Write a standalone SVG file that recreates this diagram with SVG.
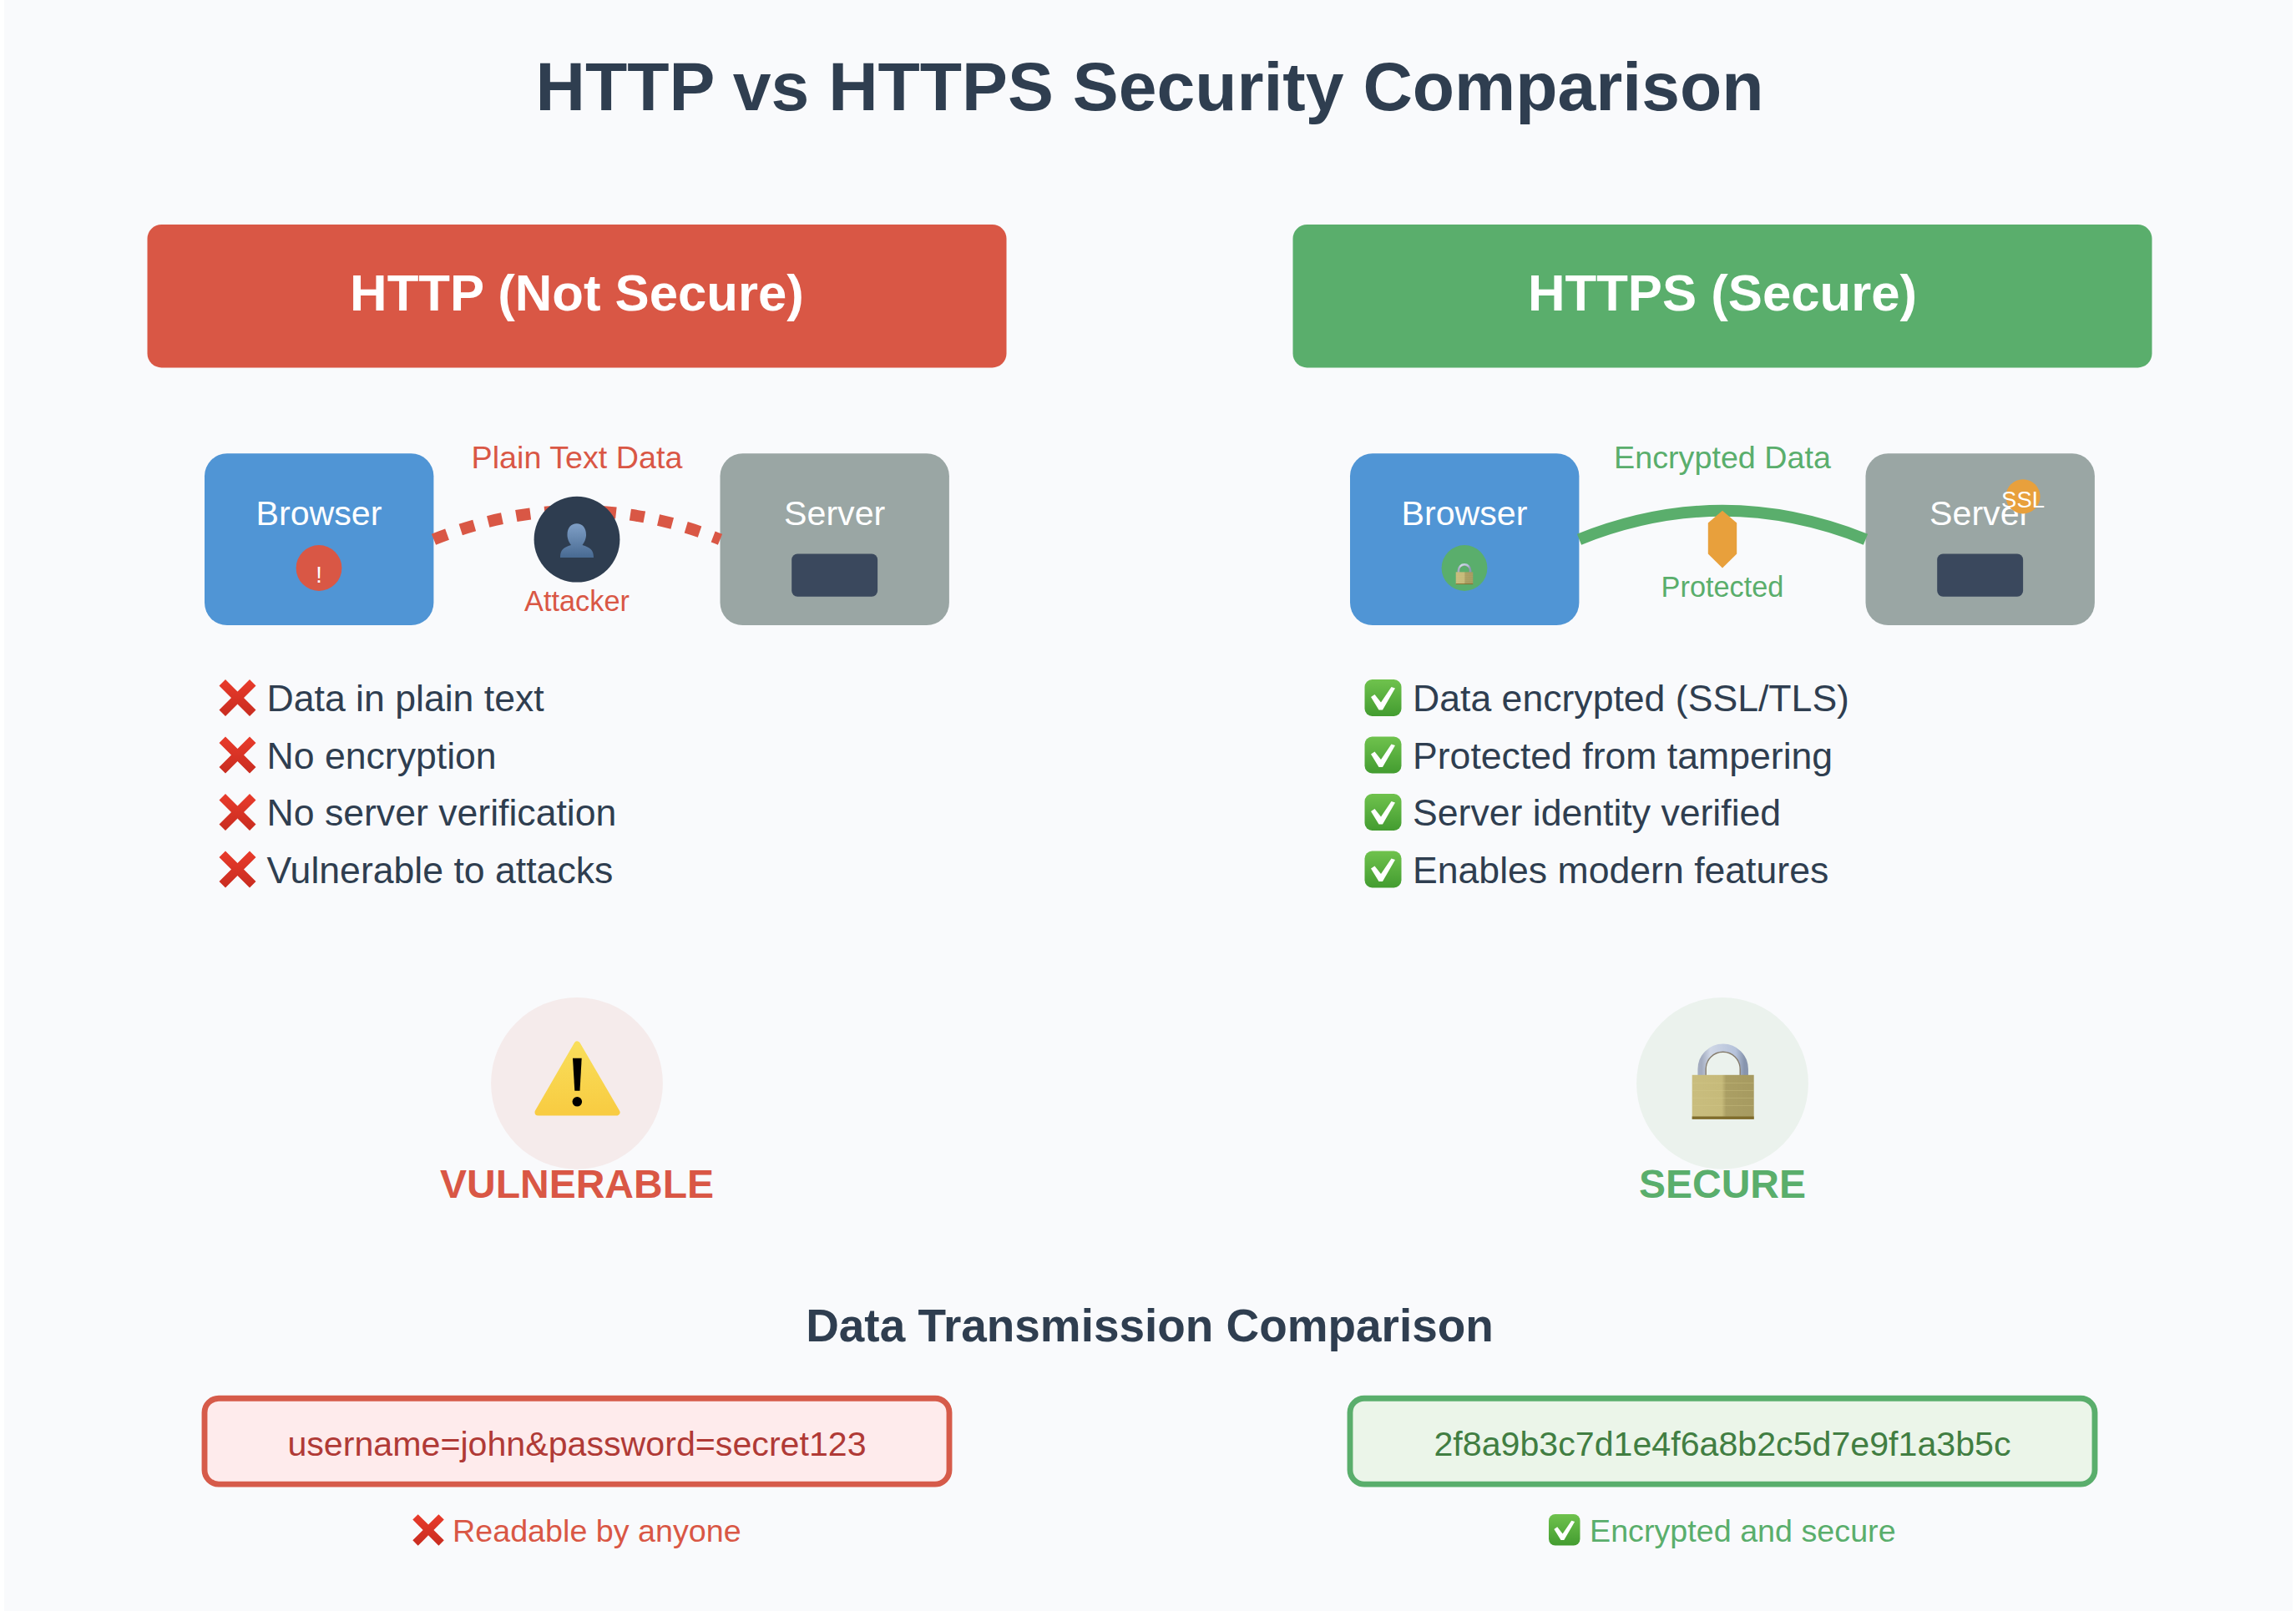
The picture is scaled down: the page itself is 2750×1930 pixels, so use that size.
<svg xmlns="http://www.w3.org/2000/svg" width="2750" height="1930" viewBox="0 0 2750 1930">
<style>
text{font-family:"Liberation Sans",Arial,sans-serif}
.m{text-anchor:middle}
.b{font-weight:700}
.title{font-size:82.3px;fill:#2f3e50}
.head{font-size:61.7px;fill:#fff}
.node{font-size:41.16px;fill:#fff}
.red{fill:#d95745}
.green{fill:#5aae6c}
.lbl{font-size:37.7px}
.sm{font-size:34.3px}
.item{font-size:44.6px;fill:#2f3e50}
.stat{font-size:48px}
.data{font-size:41.16px}
.blue{fill:#5095d5}
.grey{fill:#9aa6a4}
.slot{fill:#3a485d}
.conn{fill:none;stroke-width:14px}
</style>
<defs>
<linearGradient id="gx" x1="0" y1="0" x2="0" y2="1"><stop offset="0" stop-color="#e93b2b"/><stop offset="1" stop-color="#c82c20"/></linearGradient>
<linearGradient id="gc" x1="0" y1="0" x2="0" y2="1"><stop offset="0" stop-color="#6fc24d"/><stop offset="1" stop-color="#439c30"/></linearGradient>
<linearGradient id="gw" x1="0" y1="0" x2="0" y2="1"><stop offset="0" stop-color="#f9de5a"/><stop offset="1" stop-color="#f8cc42"/></linearGradient>
<linearGradient id="gp" x1="0" y1="0" x2="0" y2="1"><stop offset="0" stop-color="#7f9fc6"/><stop offset="1" stop-color="#486a92"/></linearGradient>
<linearGradient id="gs" x1="0" y1="0" x2="1" y2="0"><stop offset="0" stop-color="#a3acc0"/><stop offset=".2" stop-color="#cfd7e6"/><stop offset=".8" stop-color="#b5c2da"/><stop offset="1" stop-color="#8795ae"/></linearGradient>
<linearGradient id="gl" x1="0" y1="0" x2="1" y2="0"><stop offset="0" stop-color="#c9bd7e"/><stop offset=".48" stop-color="#c6ba7a"/><stop offset=".55" stop-color="#ab9f64"/><stop offset="1" stop-color="#a69a60"/></linearGradient>
<symbol id="cross" viewBox="0 0 44 44" overflow="visible"><polygon fill="url(#gx)" points="7.5,0 22,14.5 36.5,0 44,7.5 29.5,22 44,36.5 36.5,44 22,29.5 7.5,44 0,36.5 14.5,22 0,7.5"/></symbol>
<symbol id="check" viewBox="0 0 44 44" overflow="visible"><rect width="44" height="44" rx="9" fill="url(#gc)"/><polygon fill="#fff" points="7.5,21 12,18 19.5,27.5 32,9 36.5,10.5 21.5,36.5 17,36.5"/></symbol>
<symbol id="lock" viewBox="0 0 74 90" overflow="visible">
<path d="M11.5 40V30.300A25.500 25.500 0 0 1 62.500 30.300V40" fill="none" stroke="url(#gs)" stroke-width="9.500"/>
<path d="M16.500 40V30.300A20.500 20.500 0 0 1 57.500 30.300V40" fill="none" stroke="#857c6c" stroke-width="1.400"/>
<rect x="0" y="37.300" width="74" height="53" fill="url(#gl)"/>
<path d="M0 47H74M0 56H74M0 65H74M0 74H74" stroke="#d8cd90" stroke-opacity=".3" stroke-width="1.200"/>
<rect x="0" y="87" width="74" height="3.300" fill="#7f6c2c"/>
</symbol>
</defs>
<rect x="5" y="0" width="2741" height="1930" fill="#f9fafc"/>
<g transform="translate(0,-1.5)">
<text id="title" class="b m title" x="1377" y="133">HTTP vs HTTPS Security Comparison</text>

<g id="http-header"><rect x="176.500" y="270.400" width="1029" height="171.500" rx="17" class="red"/><text class="b m head" x="691" y="373">HTTP (Not Secure)</text></g>
<g id="https-header"><rect x="1548.500" y="270.400" width="1029" height="171.500" rx="17" class="green"/><text class="b m head" x="2063" y="373">HTTPS (Secure)</text></g>

<g id="http-browser"><rect x="245" y="544.800" width="274.400" height="205.800" rx="27" class="blue"/><text class="m node" x="382" y="630.500">Browser</text><circle cx="382" cy="682" r="27.400" class="red"/><text class="m" x="382" y="699" font-size="27.400" fill="#fff">!</text></g>
<g id="http-server"><rect x="862.500" y="544.800" width="274.400" height="205.800" rx="27" class="grey"/><text class="m node" x="999.700" y="630.500">Server</text><rect x="948.200" y="664.900" width="102.900" height="51.400" rx="7" class="slot"/></g>
<g id="https-browser"><rect x="1617" y="544.800" width="274.400" height="205.800" rx="27" class="blue"/><text class="m node" x="1754" y="630.500">Browser</text><circle cx="1754" cy="682" r="27.400" class="green"/><use href="#lock" x="1743.400" y="676.500" width="21.200" height="25"/></g>
<g id="https-server"><rect x="2234.500" y="544.800" width="274.400" height="205.800" rx="27" class="grey"/><text class="m node" x="2371.700" y="630.500">Server</text><rect x="2320.200" y="664.900" width="102.900" height="51.400" rx="7" class="slot"/><circle cx="2423" cy="596.300" r="20.600" fill="#e8a03c"/><text class="m" x="2423" y="609.500" font-size="27.400" fill="#fff">SSL</text></g>

<g id="connectors">
<path id="conn-http" class="conn" d="M519.500 647.700Q691 579 862.500 647.700" stroke="#d95745" stroke-dasharray="17.150 17.150"/>
<path id="conn-https" class="conn" d="M1891.500 647.700Q2063 579 2234.500 647.700" stroke="#5aae6c"/>
</g>

<g id="attacker"><circle cx="691" cy="647.700" r="51.400" fill="#2e3d50"/><path d="M671 669.500C671 660 675 657.500 684 654.500C680 649 679.500 645 679.500 642C679.500 634 684 628.800 690.800 628.800C697.500 628.800 702 634 702 642C702 645 701.500 649 697.500 654.500C706.500 657.500 711 660 711 669.500Z" fill="url(#gp)"/><text class="m sm red" x="691" y="733">Attacker</text></g>
<text id="label-plain" class="m lbl red" x="691" y="562">Plain Text Data</text>
<g id="shield"><polygon points="2063,613.300 2080.200,628 2080.200,665 2063,682 2045.800,665 2045.800,628" fill="#e8a03c"/></g>
<text id="label-encrypted" class="m lbl green" x="2063" y="562">Encrypted Data</text>
<text id="label-protected" class="m sm green" x="2063" y="716">Protected</text>

<g id="http-list">
<use href="#cross" x="262.500" y="815.500" width="44" height="44"/><text class="item" x="319.500" y="853.500">Data in plain text</text>
<use href="#cross" x="262.500" y="884" width="44" height="44"/><text class="item" x="319.500" y="922">No encryption</text>
<use href="#cross" x="262.500" y="952.500" width="44" height="44"/><text class="item" x="319.500" y="990.500">No server verification</text>
<use href="#cross" x="262.500" y="1021" width="44" height="44"/><text class="item" x="319.500" y="1059">Vulnerable to attacks</text>
</g>
<g id="https-list">
<use href="#check" x="1634.500" y="815.500" width="44" height="44"/><text class="item" x="1692" y="853.500">Data encrypted (SSL/TLS)</text>
<use href="#check" x="1634.500" y="884" width="44" height="44"/><text class="item" x="1692" y="922">Protected from tampering</text>
<use href="#check" x="1634.500" y="952.500" width="44" height="44"/><text class="item" x="1692" y="990.500">Server identity verified</text>
<use href="#check" x="1634.500" y="1021" width="44" height="44"/><text class="item" x="1692" y="1059">Enables modern features</text>
</g>

<g id="vulnerable">
<circle cx="691" cy="1299.400" r="102.900" fill="#f5ebeb"/>
<polygon points="691.300,1253 738.500,1334 644.500,1334" fill="url(#gw)" stroke="url(#gw)" stroke-width="8" stroke-linejoin="round"/>
<polygon points="686,1269.300 696.700,1269.300 694.500,1308.300 688.300,1308.300" fill="#000"/><circle cx="691.300" cy="1321.300" r="5.800" fill="#000"/>
<text class="b m stat red" x="691" y="1436.600">VULNERABLE</text>
</g>
<g id="secure">
<circle cx="2063" cy="1299.400" r="102.900" fill="#ebf2ed"/>
<use href="#lock" x="2026.700" y="1252" width="74" height="90"/>
<text class="b m stat green" x="2063" y="1436.600">SECURE</text>
</g>

<text id="compare-title" class="b m" x="1377" y="1608" font-size="54.900" fill="#2f3e50">Data Transmission Comparison</text>
<g id="plain-box"><rect x="245" y="1676.700" width="892" height="102.900" rx="17" fill="#feebec" stroke="#d65b4a" stroke-width="6.860"/><text class="m data" x="691" y="1745.300" fill="#b03a36">username=john&amp;password=secret123</text></g>
<g id="cipher-box"><rect x="1617" y="1676.700" width="892" height="102.900" rx="17" fill="#ebf5e9" stroke="#5aae6c" stroke-width="6.860"/><text class="m data" x="2063" y="1745.300" fill="#417e42">2f8a9b3c7d1e4f6a8b2c5d7e9f1a3b5c</text></g>
<g id="plain-note"><use href="#cross" x="494.300" y="1815.700" width="37.500" height="37.500"/><text class="lbl red" x="542" y="1848.300">Readable by anyone</text></g>
<g id="cipher-note"><use href="#check" x="1855" y="1815.500" width="37.500" height="37.500"/><text class="lbl green" x="1904" y="1848.300">Encrypted and secure</text></g>
</g>
</svg>
